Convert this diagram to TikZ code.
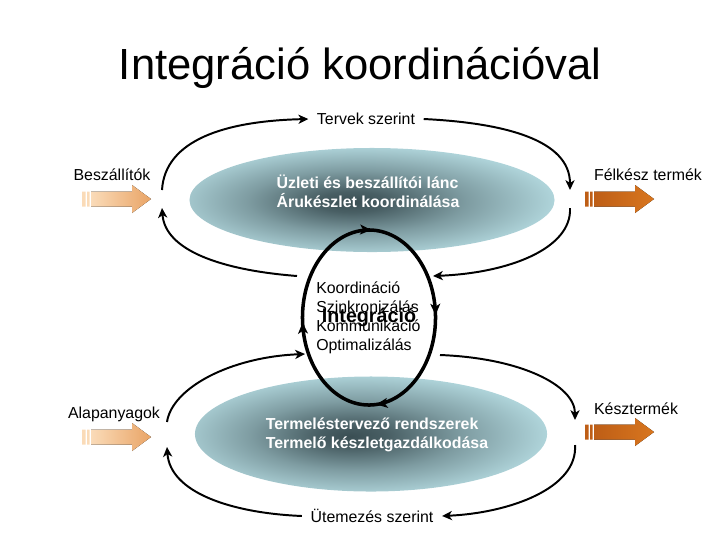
\documentclass[tikz,border=0pt]{standalone}
\usepackage{fontspec}
\setmainfont{Liberation Sans}
\usetikzlibrary{arrows.meta, positioning, shapes.geometric, decorations.markings}
\definecolor{lensrim}{HTML}{B6DCE2}
\definecolor{lensdark}{HTML}{3A4E53}
\definecolor{peachL}{HTML}{FADBB8}
\definecolor{peachD}{HTML}{E9A466}
\definecolor{rustL}{HTML}{BE5E16}
\definecolor{rustD}{HTML}{D8761F}
\pgfdeclareradialshading{lens}{\pgfpoint{-3bp}{-1bp}}{color(0bp)=(lensdark); color(5bp)=(lensdark!88!lensrim); color(15bp)=(lensdark!45!lensrim); color(28bp)=(lensrim); color(50bp)=(lensrim)}

\begin{document}
\begin{tikzpicture}[x=0.025cm, y=-0.025cm,
    txt/.style={font=\fontsize{11.3}{13.4}\selectfont},
    boldtxt/.style={font=\fontsize{11.3}{13.5}\selectfont\bfseries, text=white, align=left},
    lensbox/.style={ellipse, shade, shading=lens, draw=none, inner sep=0pt},
    flow/.style={line width=1.4pt, -{Stealth[length=7pt, width=6.5pt, inset=2pt]}},
    ovaltip/.tip={Stealth[length=8pt, width=7pt, inset=2pt]}]
  \useasboundingbox (0,0) rectangle (720,540);

  \node[font=\fontsize{31}{37}\selectfont] (title) at (360,68) {Integráció koordinációval};

  \node[lensbox, minimum width=9.125cm, minimum height=2.6cm] (upper) at (372,200) {};
  \node[lensbox, minimum width=8.8cm, minimum height=2.875cm] (lower) at (371,434) {};
  \node[boldtxt] (uptext) at (368,191) {Üzleti és beszállítói lánc\\Árukészlet koordinálása};
  \node[boldtxt] (lowtext) at (377,435) {Termeléstervező rendszerek\\Termelő készletgazdálkodása};

  \node[txt, align=left, anchor=west, inner sep=0pt] (tasks) at (316,318)
    {Koordináció\\Szinkronizálás\\Kommunikáció\\Optimalizálás};
  \node[ellipse, draw, line width=2.5pt, minimum width=3.3cm, minimum height=4.375cm, inner sep=0pt,
    font=\fontsize{14}{16}\selectfont\bfseries, postaction={decorate},
    decoration={markings,
      mark=at position 0.005 with {\arrowreversed{ovaltip}},
      mark=at position 0.245 with {\arrowreversed{ovaltip}},
      mark=at position 0.51 with {\arrowreversed{ovaltip}},
      mark=at position 0.765 with {\arrowreversed{ovaltip}}}] (integ) at (369,317.5) {Integráció};

  \node[txt] (besz) at (112,175) {Beszállítók};
  \node[txt] (felk) at (648,175) {Félkész termék};
  \node[txt] (alap) at (114,414) {Alapanyagok};
  \node[txt] (kesz) at (636,409) {Késztermék};

  \foreach \x/\y/\cl/\cr in {82/199/peachL/peachD, 585/199/rustL/rustD, 82/437/peachL/peachD, 585/432/rustL/rustD} {
    \fill[shift={(\x,\y)}, left color=\cl, right color=\cr] (9,-7.5) -- (50,-7.5) -- (50,-14) -- (69,0) -- (50,14) -- (50,7.5) -- (9,7.5) -- cycle;
    \fill[shift={(\x,\y)}, \cl] (0,-7.5) rectangle (3.5,7.5) (5,-7.5) rectangle (7.5,7.5);
  }

  \node[txt, inner xsep=6pt] (tervek) at (366,119) {Tervek szerint};
  \node[txt, inner xsep=6pt] (utem) at (372,516) {Ütemezés szerint};

  \coordinate (ul1) at (162,190);
  \coordinate (ul2) at (162,208);
  \coordinate (ur1) at (570,190);
  \coordinate (ur2) at (570,208);
  \coordinate (um1) at (297,276);
  \coordinate (um2) at (433,276);
  \coordinate (ll1) at (167,422);
  \coordinate (ll2) at (167,447);
  \coordinate (lr1) at (575,420);
  \coordinate (lr2) at (575,445);
  \coordinate (lm1) at (305,354);
  \coordinate (lm2) at (440,355);

  \draw[flow] (ul1) .. controls (165,140) and (225,121) .. (tervek.west);
  \draw[flow] (tervek.east) .. controls (505,123) and (570,140) .. (ur1);
  \draw[flow] (ur2) .. controls (572,248) and (510,273) .. (um2);
  \draw[flow] (um1) .. controls (220,270) and (165,250) .. (ul2);
  \draw[flow] (ll1) .. controls (172,388) and (230,357) .. (lm1);
  \draw[flow] (lm2) .. controls (520,358) and (575,385) .. (lr1);
  \draw[flow] (lr2) .. controls (578,488) and (510,513) .. (utem.east);
  \draw[flow] (utem.west) .. controls (230,513) and (170,492) .. (ll2);
\end{tikzpicture}
\end{document}
